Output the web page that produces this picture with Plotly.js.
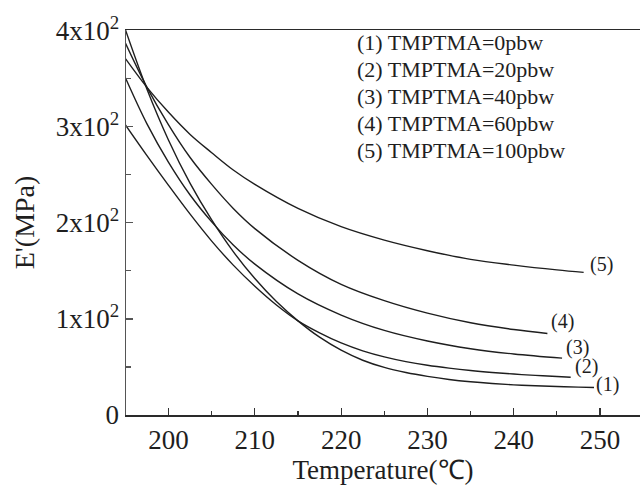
<!DOCTYPE html>
<html>
<head>
<meta charset="utf-8">
<script src="https://cdn.plot.ly/plotly-3.0.1.min.js"></script>
<style>html,body{margin:0;padding:0;background:#fff;}#chart{width:640px;height:493px;}</style>
</head>
<body>
<div id="chart"></div>
<script>
// Temperature (°C) sample points per curve
const temp1 = [195, 197.5, 200, 202.5, 205, 207.5, 210, 212.5, 215, 217.5, 220, 222.5, 225, 227.5, 230, 232.5, 235, 237.5, 240, 242.5, 245, 247.5, 249.3];
const temp2 = [195, 197.5, 200, 202.5, 205, 207.5, 210, 212.5, 215, 217.5, 220, 222.5, 225, 227.5, 230, 232.5, 235, 237.5, 240, 242.5, 245, 246.6];
const temp3 = [195, 197.5, 200, 202.5, 205, 207.5, 210, 215, 220, 225, 230, 235, 240, 245.6];
const temp4 = [195, 197.5, 200, 202.5, 205, 207.5, 210, 215, 220, 225, 230, 235, 240, 243.9];
const temp5 = [195, 197.5, 200, 202.5, 205, 207.5, 210, 215, 220, 225, 230, 235, 240, 245, 248.1];

// Storage modulus E' (MPa)
const e1 = [401, 339, 286, 241, 203, 170, 142, 118, 98, 81, 67.5, 57, 49.5, 44.2, 40.2, 37, 34.6, 32.8, 31.4, 30.4, 29.6, 29, 28.6];
const e2 = [302, 270, 239, 209, 181, 156, 134, 114.5, 98, 85.5, 75, 66.8, 60.5, 55.6, 51.8, 48.8, 46.3, 44.3, 42.6, 41.2, 40, 39.3];
const e3 = [351, 303, 263, 229, 201, 177, 157, 126, 104, 88, 77, 69, 63.5, 59.2];
const e4 = [387, 341, 302, 268, 240, 215, 194, 161, 136, 119, 106, 96, 89, 84.9];
const e5 = [371, 341, 315, 292, 273, 255, 240, 215, 196, 182, 171, 162, 156, 151, 148.4];

const seriesNames = ["(1) TMPTMA=0pbw", "(2) TMPTMA=20pbw", "(3) TMPTMA=40pbw", "(4) TMPTMA=60pbw", "(5) TMPTMA=100pbw"];
const curveLabels = ["(1)", "(2)", "(3)", "(4)", "(5)"];
const yTickVals = [0, 100, 200, 300, 400];
const yTickText = ["0", "1x10<sup>2</sup>", "2x10<sup>2</sup>", "3x10<sup>2</sup>", "4x10<sup>2</sup>"];
const xTickVals = [200, 210, 220, 230, 240, 250];

const temps = [temp1, temp2, temp3, temp4, temp5];
const mods = [e1, e2, e3, e4, e5];

const FONT = "Liberation Serif, Times New Roman, serif";
const lineColor = "#1e1e1e";

const traces = temps.map((t, i) => ({
  x: t, y: mods[i], type: "scatter", mode: "lines", name: seriesNames[i],
  line: {color: lineColor, width: 1.4, shape: "spline", smoothing: 1.0},
  showlegend: false, cliponaxis: true
}));

// label offsets (px) from each curve's end point
const labelShift = [[0, 3], [2, 10.5], [2, 11], [2, 11.5], [4, 8]];
const annotations = [];
temps.forEach((t, i) => {
  annotations.push({
    x: t[t.length - 1], y: mods[i][mods[i].length - 1], xref: "x", yref: "y",
    text: curveLabels[i], showarrow: false, xanchor: "left", yanchor: "middle",
    xshift: labelShift[i][0], yshift: labelShift[i][1],
    font: {family: FONT, size: 20, color: "#1e1e1e"}
  });
});
const legendY = [0.968, 0.897, 0.828, 0.757, 0.686];
seriesNames.forEach((n, i) => {
  annotations.push({
    x: 0.4455, y: legendY[i], xref: "paper", yref: "paper",
    text: n, showarrow: false, xanchor: "left", yanchor: "middle",
    font: {family: FONT, size: 22, color: "#1e1e1e"}
  });
});

const layout = {
  width: 640, height: 493,
  margin: {l: 126, r: 0, t: 30, b: 78, pad: 0},
  paper_bgcolor: "#fff", plot_bgcolor: "#fff",
  font: {family: FONT, color: "#1e1e1e"},
  showlegend: false,
  xaxis: {
    range: [195.07, 254.63], showgrid: false, zeroline: false,
    showline: true, linecolor: "#2a2a2a", linewidth: 1.5, mirror: true,
    ticks: "inside", ticklen: 7, tickwidth: 1.2, tickcolor: "#333",
    tickvals: xTickVals, ticktext: xTickVals.map(String),
    tickfont: {family: FONT, size: 27, color: "#1e1e1e"},
    minor: {ticks: "inside", ticklen: 4.5, tickwidth: 1.2, tickcolor: "#333", dtick: 5, tick0: 195, showgrid: false},
    title: {text: "Temperature(℃)", font: {family: FONT, size: 27, color: "#1e1e1e"}, standoff: 3}
  },
  yaxis: {
    range: [0, 400.7], showgrid: false, zeroline: false,
    showline: true, linecolor: "#555", linewidth: 1.5, mirror: false,
    ticks: "inside", ticklen: 7, tickwidth: 1.2, tickcolor: "#555",
    tickvals: yTickVals, ticktext: yTickText,
    tickfont: {family: FONT, size: 27, color: "#1e1e1e"},
    minor: {ticks: "inside", ticklen: 4.5, tickwidth: 1.2, tickcolor: "#555", dtick: 50, tick0: 0, showgrid: false},
    title: {text: "E'(MPa)", font: {family: FONT, size: 28, color: "#1e1e1e"}, standoff: 13}
  },
  annotations: annotations
};

Plotly.newPlot("chart", traces, layout, {staticPlot: true, displayModeBar: false});
</script>
</body>
</html>
